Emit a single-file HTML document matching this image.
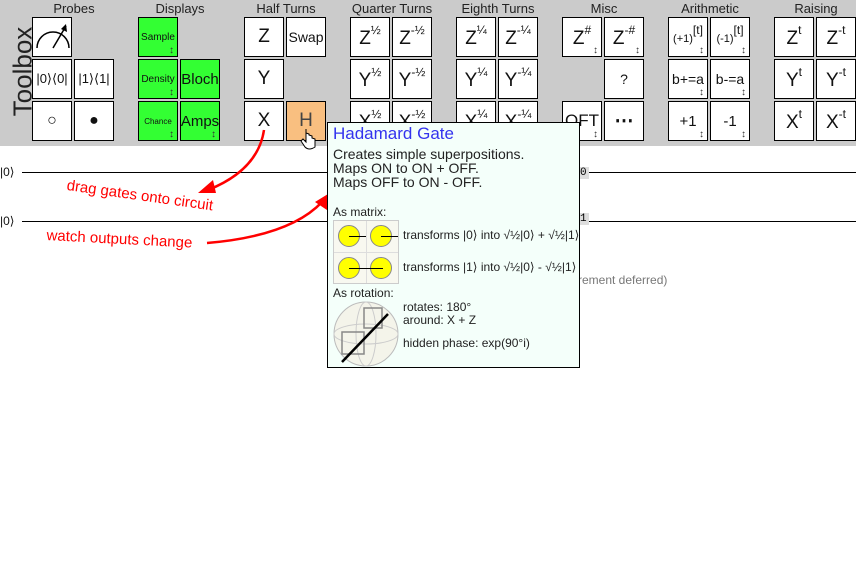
<!DOCTYPE html>
<html><head><meta charset="utf-8"><style>
*{margin:0;padding:0;box-sizing:border-box}
body{width:856px;height:570px;position:relative;background:#fff;font-family:"Liberation Sans",sans-serif;overflow:hidden}
#tb{position:absolute;left:0;top:0;width:856px;height:146px;background:#cbcbcb}
.h{position:absolute;top:1px;font-size:13px;color:#222;text-align:center;width:84px}
.g{position:absolute;width:40px;height:40px;background:#fff;border:1px solid #000;display:flex;align-items:center;justify-content:center;font-size:19px;color:#111;white-space:nowrap;padding-top:4px}
.gr{background:#3f3}
.sm{font-size:10px;padding-top:0}
.ar{position:absolute;right:3px;bottom:0px;font-size:10px;line-height:10px;color:#333}
sup{font-size:12px;position:relative;top:-9px;vertical-align:baseline;line-height:0}
.wire{position:absolute;left:22px;right:0;height:1px;background:#000}
.lab{position:absolute;left:0;font-size:12px;color:#111}
#tip{position:absolute;left:327px;top:122px;width:253px;height:246px;background:#f4fffa;border:1px solid #000;font-size:14px;color:#222}
.t{position:absolute;white-space:nowrap}
.c{position:absolute;width:22px;height:22px;border-radius:50%;background:#ff0;border:1px solid #888}
</style></head><body>
<div id="tb">
<div style="position:absolute;left:-22px;top:56px;transform:rotate(-90deg);font-size:26px;color:#222">Toolbox</div>
<div class="h" style="left:32px">Probes</div>
<div class="h" style="left:138px">Displays</div>
<div class="h" style="left:244px">Half Turns</div>
<div class="h" style="left:350px">Quarter Turns</div>
<div class="h" style="left:456px">Eighth Turns</div>
<div class="h" style="left:562px">Misc</div>
<div class="h" style="left:668px">Arithmetic</div>
<div class="h" style="left:774px">Raising</div>

<div class="g" style="left:32px;top:17px;padding:0"><svg width="38" height="38"><path d="M4 30 A16 16 0 0 1 36 30" fill="none" stroke="#000" stroke-width="1.5"/><line x1="20" y1="30" x2="33" y2="8" stroke="#000" stroke-width="1.5"/><polygon points="33,6 34,14 28,11" fill="#000"/></svg></div>
<div class="g" style="left:32px;top:59px;font-size:13px;padding:0">|0⟩⟨0|</div>
<div class="g" style="left:74px;top:59px;font-size:13px;padding:0">|1⟩⟨1|</div>
<div class="g" style="left:32px;top:101px;font-size:16px;padding:0">○</div>
<div class="g" style="left:74px;top:101px;font-size:16px;padding:0">●</div>

<div class="g gr sm" style="left:138px;top:17px">Sample<span class="ar">↕</span></div>
<div class="g gr sm" style="left:138px;top:59px">Density<span class="ar">↕</span></div>
<div class="g gr" style="left:180px;top:59px;font-size:15px;padding:0">Bloch</div>
<div class="g gr sm" style="left:138px;top:101px;font-size:8px">Chance<span class="ar">↕</span></div>
<div class="g gr" style="left:180px;top:101px;font-size:15px;padding:0">Amps<span class="ar">↕</span></div>

<div class="g" style="left:244px;top:17px;padding:0">Z</div>
<div class="g" style="left:286px;top:17px;font-size:14px;padding:0">Swap</div>
<div class="g" style="left:244px;top:59px;padding:0">Y</div>
<div class="g" style="left:244px;top:101px;padding:0">X</div>
<div class="g" style="left:286px;top:101px;background:#f9bf80;padding:0;color:#444">H</div>

<div class="g" style="left:350px;top:17px">Z<sup>½</sup></div>
<div class="g" style="left:392px;top:17px">Z<sup>-½</sup></div>
<div class="g" style="left:350px;top:59px">Y<sup>½</sup></div>
<div class="g" style="left:392px;top:59px">Y<sup>-½</sup></div>
<div class="g" style="left:350px;top:101px">X<sup>½</sup></div>
<div class="g" style="left:392px;top:101px">X<sup>-½</sup></div>

<div class="g" style="left:456px;top:17px">Z<sup>¼</sup></div>
<div class="g" style="left:498px;top:17px">Z<sup>-¼</sup></div>
<div class="g" style="left:456px;top:59px">Y<sup>¼</sup></div>
<div class="g" style="left:498px;top:59px">Y<sup>-¼</sup></div>
<div class="g" style="left:456px;top:101px">X<sup>¼</sup></div>
<div class="g" style="left:498px;top:101px">X<sup>-¼</sup></div>

<div class="g" style="left:562px;top:17px">Z<sup>#</sup><span class="ar">↕</span></div>
<div class="g" style="left:604px;top:17px">Z<sup>-#</sup><span class="ar">↕</span></div>
<div class="g" style="left:604px;top:59px;font-size:14px;padding:0">?</div>
<div class="g" style="left:562px;top:101px;font-size:17px;padding:0">QFT<span class="ar">↕</span></div>
<div class="g" style="left:604px;top:101px;font-weight:bold;padding:0">⋯</div>

<div class="g" style="left:668px;top:17px;font-size:11px">(+1)<sup>[t]</sup><span class="ar">↕</span></div>
<div class="g" style="left:710px;top:17px;font-size:11px">(-1)<sup>[t]</sup><span class="ar">↕</span></div>
<div class="g" style="left:668px;top:59px;font-size:14px;padding:0">b+=a<span class="ar">↕</span></div>
<div class="g" style="left:710px;top:59px;font-size:14px;padding:0">b-=a<span class="ar">↕</span></div>
<div class="g" style="left:668px;top:101px;font-size:15px;padding:0">+1<span class="ar">↕</span></div>
<div class="g" style="left:710px;top:101px;font-size:15px;padding:0">-1<span class="ar">↕</span></div>

<div class="g" style="left:774px;top:17px">Z<sup>t</sup></div>
<div class="g" style="left:816px;top:17px">Z<sup>-t</sup></div>
<div class="g" style="left:774px;top:59px">Y<sup>t</sup></div>
<div class="g" style="left:816px;top:59px">Y<sup>-t</sup></div>
<div class="g" style="left:774px;top:101px">X<sup>t</sup></div>
<div class="g" style="left:816px;top:101px">X<sup>-t</sup></div>
</div>

<div class="wire" style="top:172px"></div>
<div class="wire" style="top:221px"></div>
<div class="lab" style="top:165px">|0⟩</div>
<div class="lab" style="top:214px">|0⟩</div>
<div class="t" style="left:578px;top:167px;background:#ddd;font-family:'Liberation Mono',monospace;font-size:11px;padding:0 2px">0</div>
<div class="t" style="left:578px;top:213px;background:#ddd;font-family:'Liberation Mono',monospace;font-size:11px;padding:0 2px">1</div>
<div class="t" style="left:578px;top:273px;font-size:12px;color:#777">rement deferred)</div>

<div class="t" style="left:68px;top:177px;color:#f00;font-size:15px;transform:rotate(8deg);transform-origin:left top">drag gates onto circuit</div>
<div class="t" style="left:47px;top:227px;color:#f00;font-size:15px;transform:rotate(3deg);transform-origin:left top">watch outputs change</div>
<svg style="position:absolute;left:0;top:0" width="856" height="570">
<path d="M264 130 Q258 170 208 190" fill="none" stroke="#f00" stroke-width="2.5"/>
<polygon points="198,193 213,180 216,193" fill="#f00"/>
<path d="M207 243 Q290 236 322 202" fill="none" stroke="#f00" stroke-width="2.5"/>
<polygon points="328,194 327,210 315,202" fill="#f00"/>
<path d="M306 130 l0 12 l-3 -3 l-2 2 l4 6 q4 4 10 0 l0 -8 l-3 -1 l0 -2 l-3 -1 l0 -1 l-3 -1 l0 -4 z" fill="#fff" stroke="#000"/>
</svg>

<div id="tip">
<div class="t" style="left:5px;top:1px;font-size:17px;color:#3333ee">Hadamard Gate</div>
<div class="t" style="left:5px;top:24px;line-height:14px">Creates simple superpositions.<br>Maps ON to ON + OFF.<br>Maps OFF to ON - OFF.</div>
<div class="t" style="left:5px;top:82px;font-size:12px">As matrix:</div>
<div style="position:absolute;left:5px;top:97px;width:66px;height:64px;border:1px solid #ccc;background:#f8f8f0">
<div style="position:absolute;left:32px;top:0;width:1px;height:62px;background:#ddd"></div>
<div style="position:absolute;top:31px;left:0;width:64px;height:1px;background:#ddd"></div>
<div class="c" style="left:4px;top:4px"></div><div class="c" style="left:36px;top:4px"></div>
<div class="c" style="left:4px;top:36px"></div><div class="c" style="left:36px;top:36px"></div>
<div style="position:absolute;left:15px;top:15px;width:17px;height:1px;background:#000"></div>
<div style="position:absolute;left:47px;top:15px;width:17px;height:1px;background:#000"></div>
<div style="position:absolute;left:15px;top:47px;width:34px;height:1px;background:#000"></div>
</div>
<div class="t" style="left:75px;top:105px;font-size:12px">transforms |0⟩ into √½|0⟩ + √½|1⟩</div>
<div class="t" style="left:75px;top:137px;font-size:12px">transforms |1⟩ into √½|0⟩ - √½|1⟩</div>
<div class="t" style="left:5px;top:163px;font-size:12px">As rotation:</div>
<svg style="position:absolute;left:4px;top:177px" width="68" height="68">
<circle cx="34" cy="34" r="32" fill="#f4f4ea" stroke="#bbb"/>
<ellipse cx="34" cy="34" rx="32" ry="10" fill="none" stroke="#ccc"/>
<ellipse cx="34" cy="34" rx="10" ry="32" fill="none" stroke="#ccc"/>
<rect x="32" y="8" width="18" height="20" fill="none" stroke="#888" stroke-width="1.5"/>
<rect x="10" y="32" width="22" height="22" fill="none" stroke="#888" stroke-width="1.5"/>
<line x1="10" y1="62" x2="56" y2="14" stroke="#000" stroke-width="2.5"/>
</svg>
<div class="t" style="left:75px;top:178px;font-size:12px;line-height:13px">rotates: 180°<br>around: X + Z</div>
<div class="t" style="left:75px;top:213px;font-size:12px">hidden phase: exp(90°i)</div>
</div>
</body></html>
